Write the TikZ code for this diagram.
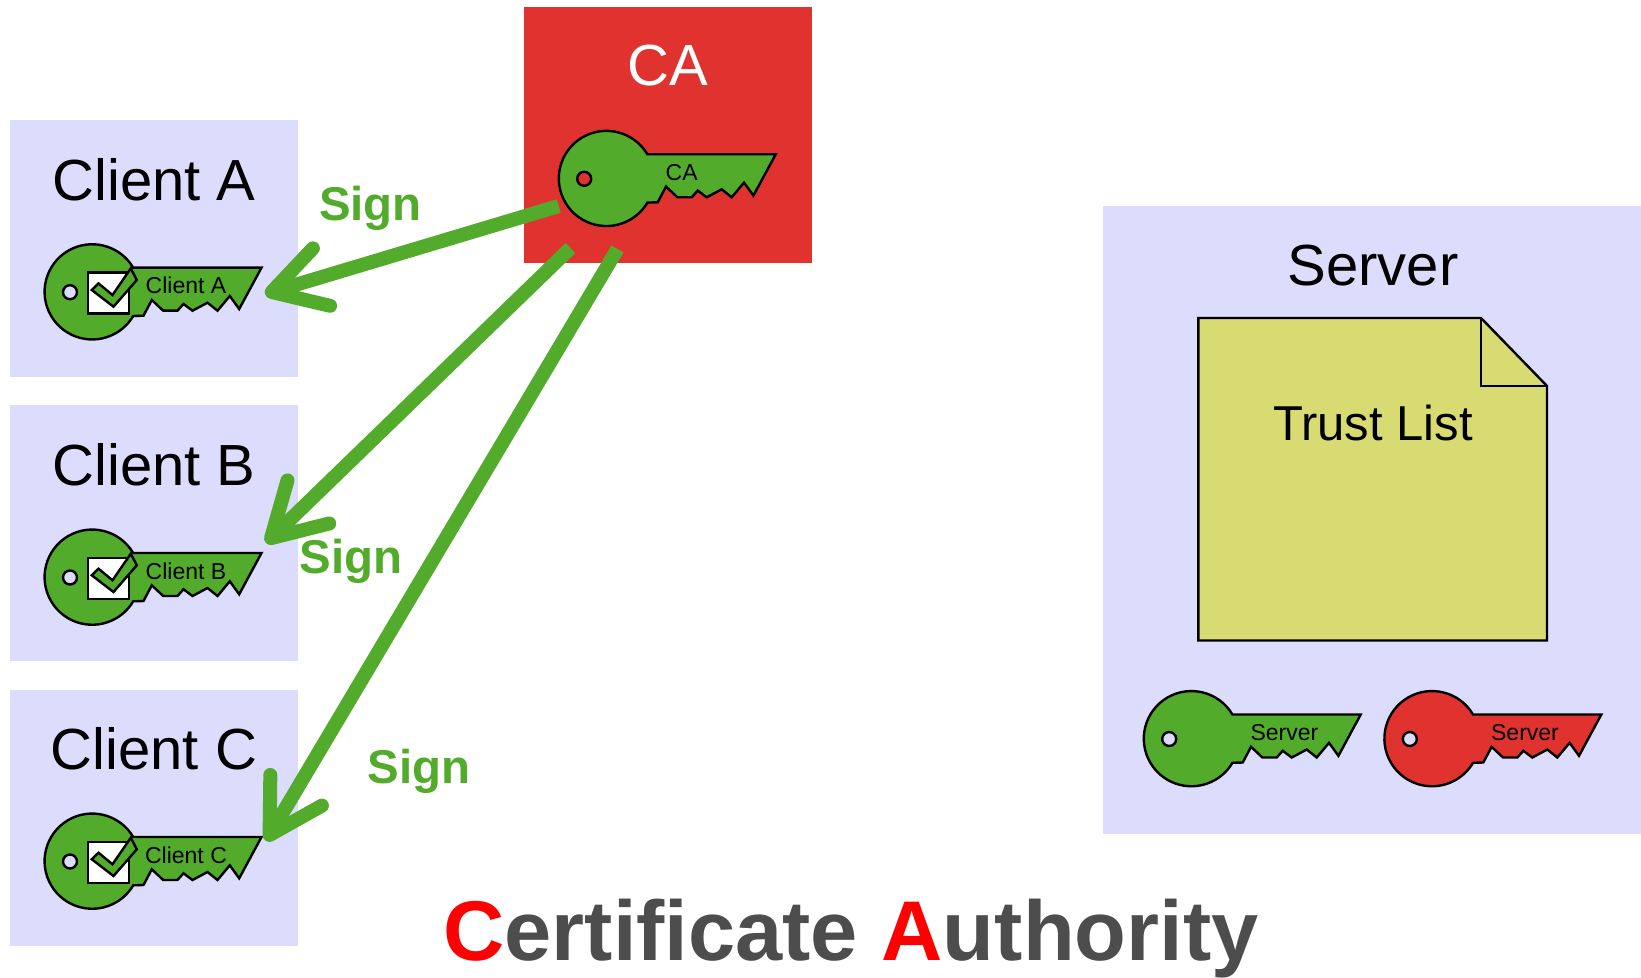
\documentclass[tikz,border=0pt]{standalone}
\usepackage{fontspec}
\setmainfont{Liberation Sans}
\usetikzlibrary{arrows.meta}
\definecolor{keygreen}{HTML}{52AB2B}
\definecolor{keyred}{HTML}{E0332F}
\definecolor{panel}{HTML}{DCDCFC}
\definecolor{noteyellow}{HTML}{D8DB72}
\definecolor{titlegray}{HTML}{4D4D4D}
\tikzset{
  panelbox/.style={fill=panel,minimum width=144pt,minimum height=128pt,inner sep=0pt},
  boxtitle/.style={font=\fontsize{29}{30}\selectfont},
  signlabel/.style={font=\fontsize{23.7}{24}\selectfont\bfseries,text=keygreen},
  signarrow/.style={draw=keygreen,line width=7pt,-{Straight Barb[round,length=26pt,width=30pt]}},
  pics/key/.style n args={4}{code={
    \draw[fill=#1,line width=1.2pt] (40.7,-24) arc[start angle=30.5,end angle=329.5,radius=23.8pt]
      -- (51,24) -- (59.3,8.3) -- (70.7,19) -- (85,19) -- (91,12.3) -- (100,19) -- (115,11)
      -- (125,19) -- (137.3,4.3) -- (146.7,17.3) -- (169,-24) -- cycle;
    \draw[fill=#2,line width=1.2pt] (-22.5,0.5) circle[radius=3.5pt];
    \node[font=\fontsize{11.5}{12}\selectfont] (-label) at (#3,-6) {#4};
  }},
  pics/certmark/.style={code={
    \draw[fill=white,line width=1.2pt] (-4.7,-19) rectangle (36.7,21.7);
    \draw[fill=keygreen,line width=1.2pt] (-0.7,-1.7) -- (6,-8.3) -- (20,3.3) -- (38.3,-23.3) -- (44.3,-11.7) -- (21,15) -- cycle;
  }}
}
\begin{document}
\begin{tikzpicture}[x=0.5pt,y=-0.5pt]
\useasboundingbox (0,0) rectangle (1641,978);
% certificate authority
\node[fill=keyred,minimum width=144pt,minimum height=128pt,inner sep=0pt] (cabox) at (668,135.5) {};
\node[boxtitle,text=white] (catitle) at (668,66) {CA};
\pic (cakey) at (606.7,178.3) {key={keygreen}{keyred}{75}{CA}};
% clients
\foreach \name/\ypos/\keypos/\titlepos in {A/248.5/291.7/180,B/533/577/465,C/818/861/749}{
  \node[panelbox] (client\name) at (154.2,\ypos) {};
  \node[boxtitle] (title\name) at (154,\titlepos) {Client \name};
  \pic (key\name) at (92.5,\keypos) {key={keygreen}{panel}{93.5}{Client \name}};
  \pic (cert\name) at (92.5,\keypos) {certmark};
}
% server
\node[panelbox,minimum width=269pt,minimum height=314pt] (serverbox) at (1372,520) {};
\node[boxtitle] (servertitle) at (1373,266) {Server};
\draw[fill=noteyellow,line width=1.2pt] (1198.3,318) -- (1481,318) -- (1547,386) -- (1547,640.5) -- (1198.3,640.5) -- cycle;
\draw[line width=1.2pt] (1481,318) -- (1481,386) -- (1547,386);
\node[font=\fontsize{24.5}{25}\selectfont] (trustlist) at (1373,423) {Trust List};
\pic (servergreen) at (1191.7,738.5) {key={keygreen}{panel}{92.7}{Server}};
\pic (serverred) at (1432.3,738.5) {key={keyred}{panel}{92.7}{Server}};
% signing arrows
\coordinate (startA) at (558.7,206);
\coordinate (startB) at (570.5,248);
\coordinate (startC) at (617.5,249);
\coordinate (endA) at (265,294);
\coordinate (endB) at (266,543);
\coordinate (endC) at (266,841);
\draw[signarrow] (startA) -- (endA);
\draw[signarrow] (startB) -- (endB);
\draw[signarrow] (startC) -- (endC);
\node[signlabel] (signA) at (370.5,208) {Sign};
\node[signlabel] (signB) at (351,561) {Sign};
\node[signlabel] (signC) at (419,771) {Sign};
% caption
\node[font=\fontsize{42.4}{44}\selectfont\bfseries,text=titlegray] (caption) at (851,939) {\textcolor{red}{C}ertificate \textcolor{red}{A}uthority};
\end{tikzpicture}
\end{document}
